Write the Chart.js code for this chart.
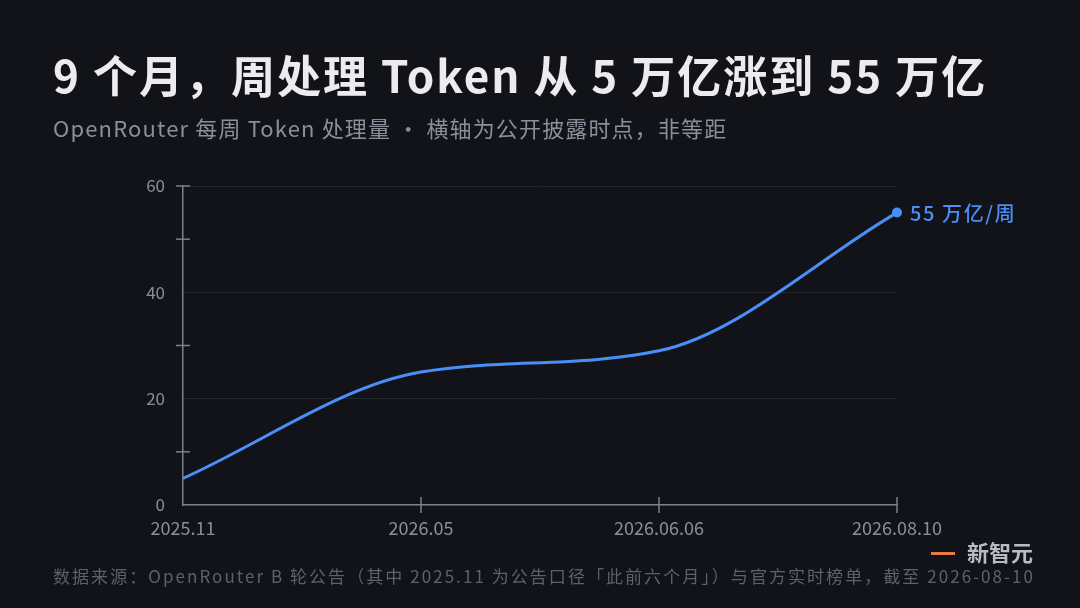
<!DOCTYPE html>
<html>
<head>
<meta charset="utf-8">
<script src="https://cdn.jsdelivr.net/npm/chart.js@4"></script>
<style>
  html, body { margin: 0; padding: 0; background: #121318; }
  body { width: 1080px; height: 608px; position: relative; overflow: hidden; font-family: "Noto Sans CJK SC", "Noto Sans", sans-serif; }
  #wrap { position: absolute; left: 0; top: 0; width: 1080px; height: 608px; }
  .title { position: absolute; left: 53px; top: 42px; font-size: 44px; font-weight: 600; letter-spacing: 2px; color: #ececf0; white-space: nowrap; }
  .sub { position: absolute; left: 53px; top: 111px; font-size: 22px; letter-spacing: 1.15px; color: #8b8f9b; white-space: nowrap; }
  .brand { position: absolute; right: 47px; top: 535px; font-size: 22px; font-weight: 700; color: #b9bbc3; white-space: nowrap; }
  .brand i { display: inline-block; width: 24px; height: 3px; background: #e8784a; vertical-align: middle; margin-right: 12px; position: relative; top: -2px; }
  .foot { position: absolute; left: 53px; top: 563px; font-size: 17px; letter-spacing: 2.05px; color: #5d616c; white-space: nowrap; }
</style>
</head>
<body>
<div id="wrap"><canvas id="myChart" width="1080" height="608"></canvas></div>
<div class="title">9 个月，周处理 Token 从 5 万亿涨到 55 万亿</div>
<div class="sub">OpenRouter 每周 Token 处理量 · 横轴为公开披露时点，非等距</div>
<div class="brand"><i></i>新智元</div>
<div class="foot">数据来源：OpenRouter B 轮公告（其中 2025.11 为公告口径「此前六个月」）与官方实时榜单，截至 2026-08-10</div>
<script>
let labels = ['2025.11', '2026.05', '2026.06.06', '2026.08.10'];
let tokens = [5, 25, 29, 55];
let yTicks = [0, 20, 40, 60];
let yMarks = [10, 30, 50, 60];
let endLabel = '55 万亿/周';

const blue = '#4a8ef8';
const axisGray = '#7c808c';
const tickText = '#8a8e9a';

// small cross marks on the axes + end label
const marks = {
    id: 'marks',
    afterDatasetsDraw(chart) {
        const c = chart.ctx;
        const x = chart.scales.x, y = chart.scales.y;
        c.save();
        c.strokeStyle = axisGray;
        c.lineWidth = 1.5;
        yMarks.forEach(v => {
            const py = y.getPixelForValue(v);
            c.beginPath(); c.moveTo(x.left - 7, py); c.lineTo(x.left + 7, py); c.stroke();
        });
        for (let i = 1; i < labels.length; i++) {
            const px = x.getPixelForValue(i);
            c.beginPath(); c.moveTo(px, y.bottom - 8); c.lineTo(px, y.bottom + 8); c.stroke();
        }
        const pts = chart.getDatasetMeta(0).data;
        const last = pts[pts.length - 1];
        c.fillStyle = blue;
        c.font = '500 20px "Noto Sans CJK SC"';
        c.letterSpacing = '1.6px';
        c.textAlign = 'left';
        c.textBaseline = 'middle';
        c.fillText(endLabel, last.x + 13, last.y + 1);
        c.restore();
    }
};

const ctx = document.getElementById('myChart');
let myChart = new Chart(ctx, {
    type: 'line',
    data: {
        labels: labels,
        datasets: [{
            data: tokens,
            borderColor: blue,
            borderWidth: 3,
            cubicInterpolationMode: 'monotone',
            pointRadius: tokens.map((v, i) => i === tokens.length - 1 ? 5 : 0),
            pointBackgroundColor: blue,
            pointBorderWidth: 0,
            clip: false
        }]
    },
    options: {
        responsive: false,
        animation: false,
        devicePixelRatio: 1,
        layout: { padding: { left: 0, right: 183, top: 186, bottom: 0 } },
        plugins: { legend: { display: false }, tooltip: { enabled: false } },
        scales: {
            x: {
                offset: false,
                afterFit: s => { s.height = 103; },
                grid: { display: false, drawTicks: false },
                border: { color: axisGray, width: 1.5 },
                ticks: { color: tickText, font: { family: 'Noto Sans CJK SC', size: 18 }, padding: 12, maxRotation: 0 }
            },
            y: {
                min: 0, max: 60,
                afterFit: s => { s.width = 183; },
                afterBuildTicks: s => { s.ticks = yTicks.map(v => ({ value: v })); },
                grid: { color: ctx => ctx.tick && ctx.tick.value > 0 ? '#23252c' : 'transparent', drawTicks: false },
                border: { color: axisGray, width: 1.5 },
                ticks: { color: tickText, font: { family: 'Noto Sans CJK SC', size: 17 }, padding: 18 }
            }
        }
    },
    plugins: [marks]
});
</script>
</body>
</html>
